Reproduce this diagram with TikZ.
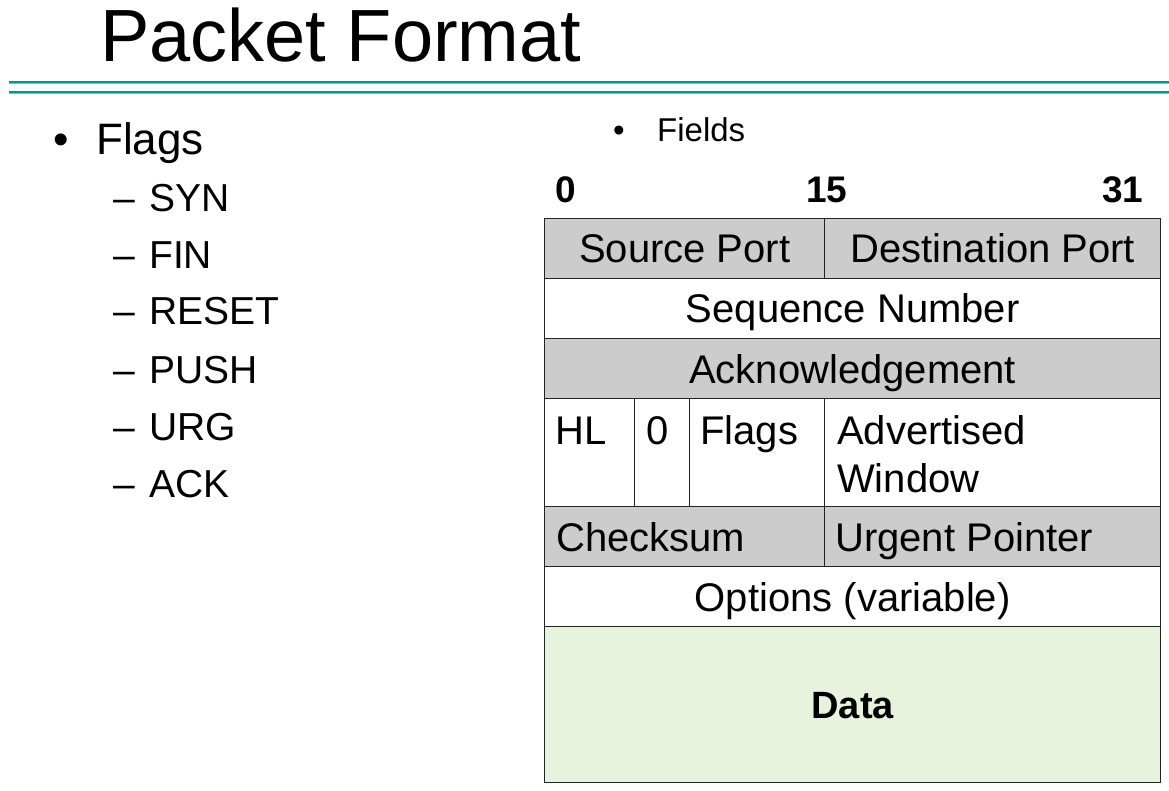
\documentclass[tikz,border=0pt]{standalone}
\usepackage{fontspec}
\setmainfont{Liberation Sans}
\definecolor{teal1}{RGB}{0,150,150}
\definecolor{teal2}{RGB}{110,200,200}
\definecolor{cellgray}{RGB}{204,204,204}
\definecolor{datagreen}{RGB}{232,243,222}
\definecolor{border}{RGB}{35,35,35}
\tikzset{
  txt/.style={inner sep=0pt, anchor=base west},
  cell/.style={draw=border, line width=1.4pt, anchor=north west, inner sep=0pt,
    font=\fontsize{40}{48}\selectfont, text height=28.6pt, text depth=0pt},
  grayc/.style={cell, fill=cellgray},
  whitec/.style={cell, fill=white},
  lt/.style={txt, font=\fontsize{40}{48}\selectfont},
  lst/.style={txt, font=\fontsize{39}{46}\selectfont},
  num/.style={txt, font=\fontsize{37}{42}\selectfont\bfseries},
}
\begin{document}
\begin{tikzpicture}[x=1pt, y=-1pt]
\useasboundingbox (0,0) rectangle (1169,791);
% title
\node[txt, font=\fontsize{74}{80}\selectfont] (title) at (100,62) {Packet Format};
% rules
\fill[teal1] (9,81) rectangle (1169,83.5);
\fill[teal2] (9,83.5) rectangle (1169,84.5);
\fill[teal1] (9,91) rectangle (1169,93.5);
\fill[teal2] (9,93.5) rectangle (1169,94.5);
% left list
\node[txt, font=\fontsize{44}{50}\selectfont] (b1) at (53,155) {•};
\node[txt, font=\fontsize{44}{50}\selectfont] (flags) at (96,155) {Flags};
\foreach \t/\yy [count=\i] in {SYN/212, FIN/269, RESET/325, PUSH/383, URG/440, ACK/497}{
  \node[lst] (d\i) at (113,\yy) {–};
  \node[lst] (f\i) at (149,\yy) {\t};
}
% fields heading
\node[txt, font=\fontsize{33}{38}\selectfont] (b2) at (613,142) {•};
\node[txt, font=\fontsize{33}{38}\selectfont] (fields) at (657,142) {Fields};
% bit numbers
\node[num] (n0) at (555,203) {0};
\node[num] (n15) at (806,203) {15};
\node[num] (n31) at (1102,203) {31};
% table
\node[grayc, minimum width=280pt, minimum height=60pt] (sp) at (544,218) {Source Port};
\node[grayc, minimum width=336pt, minimum height=60pt] (dp) at (824,218) {Destination Port};
\node[whitec, minimum width=616pt, minimum height=60pt] (seq) at (544,278) {Sequence Number};
\node[grayc, minimum width=616pt, minimum height=60pt] (ack) at (544,338) {Acknowledgement};
\node[whitec, minimum width=90pt, minimum height=108pt] (hl) at (544,398) {};
\node[whitec, minimum width=55pt, minimum height=108pt] (zero) at (634,398) {};
\node[whitec, minimum width=135pt, minimum height=108pt] (fl) at (689,398) {};
\node[whitec, minimum width=336pt, minimum height=108pt] (aw) at (824,398) {};
\node[grayc, minimum width=280pt, minimum height=60pt] (cs) at (544,506) {};
\node[grayc, minimum width=336pt, minimum height=60pt] (up) at (824,506) {};
\node[whitec, minimum width=616pt, minimum height=60pt] (opt) at (544,566) {Options (variable)};
\node[cell, fill=datagreen, minimum width=616pt, minimum height=156pt, text height=27.2pt, font=\fontsize{38}{44}\selectfont\bfseries] (data) at (544,626) {Data};
% left-aligned cell texts
\node[lt] (thl) at (555,444) {HL};
\node[lt] (tzero) at (646,444) {0};
\node[lt] (tfl) at (700,444) {Flags};
\node[lt] (taw1) at (837,444) {Advertised};
\node[lt] (taw2) at (837,492) {Window};
\node[lt] (tcs) at (556,551) {Checksum};
\node[lt] (tup) at (835,551) {Urgent Pointer};
\end{tikzpicture}
\end{document}
